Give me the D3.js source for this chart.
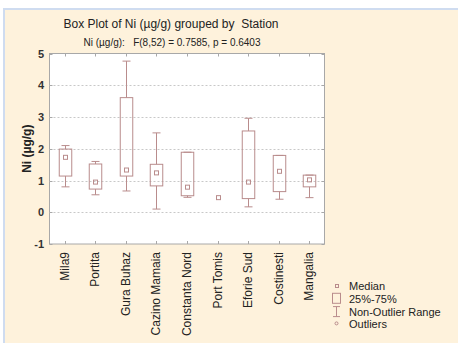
<!DOCTYPE html>
<html>
<head>
<meta charset="utf-8">
<script src="https://cdn.jsdelivr.net/npm/d3@7"></script>
<style>
  html, body { margin: 0; padding: 0; background: #fff; }
  svg { display: block; font-family: "Liberation Sans", Arial, sans-serif; }
  .pre { white-space: pre; }
</style>
</head>
<body>
<svg id="chart" width="458" height="343"></svg>
<script>
// values
const stations = ['Mila9', 'Portita', 'Gura Buhaz', 'Cazino Mamaia', 'Constanta Nord',
  'Port Tomis', 'Eforie Sud', 'Costinesti', 'Mangalia'];
const whiskerLow = [0.80, 0.55, 0.67, 0.10, 0.47, 0.46, 0.17, 0.41, 0.46];
const q1 = [1.14, 0.73, 1.14, 0.83, 0.52, 0.46, 0.43, 0.65, 0.80];
const median = [1.73, 0.95, 1.33, 1.24, 0.79, 0.46, 0.95, 1.29, 1.02];
const q3 = [1.99, 1.52, 3.61, 1.51, 1.89, 0.46, 2.56, 1.79, 1.17];
const whiskerHigh = [2.10, 1.60, 4.76, 2.50, 1.89, 0.46, 2.96, 1.79, 1.17];
const yTicks = [-1, 0, 1, 2, 3, 4, 5];
const legendItems = ['Median', '25%-75%', 'Non-Outlier Range', 'Outliers'];

const svg = d3.select('#chart');
const col = '#b98c8c';

// background with light blue frame
svg.append('rect').attr('x', 3).attr('y', 8).attr('width', 455).attr('height', 335).attr('fill', '#cfdcf0');
svg.append('rect').attr('x', 5).attr('y', 10).attr('width', 453).attr('height', 333).attr('fill', '#fef2dc');

const L = 49.5, R = 324.5, T = 53.5, B = 244;
const x = d3.scaleBand().domain(stations).range([L, R]);
const y = d3.scaleLinear().domain([-1, 5]).range([B, T]);

svg.append('rect').attr('x', L).attr('y', T).attr('width', R - L).attr('height', B - T)
  .attr('fill', '#fff').attr('stroke', '#a8a8a8').attr('stroke-width', 1);

// grid
svg.append('g').selectAll('line').data(yTicks.slice(1, -1)).join('line')
  .attr('x1', L).attr('x2', R)
  .attr('y1', d => Math.round(y(d)) + 0.5).attr('y2', d => Math.round(y(d)) + 0.5)
  .attr('stroke', '#c8c8c8').attr('stroke-dasharray', '2,2');

// ticks (inside, all sides)
const tk = svg.append('g').attr('stroke', '#a8a8a8');
stations.forEach(s => {
  const cx = Math.round(x(s) + x.bandwidth() / 2) + 0.5;
  tk.append('line').attr('x1', cx).attr('x2', cx).attr('y1', B).attr('y2', B - 3);
  tk.append('line').attr('x1', cx).attr('x2', cx).attr('y1', T).attr('y2', T + 3);
});
yTicks.forEach(t => {
  const cy = Math.round(y(t)) + 0.5;
  tk.append('line').attr('x1', L).attr('x2', L + 3).attr('y1', cy).attr('y2', cy);
  tk.append('line').attr('x1', R).attr('x2', R - 3).attr('y1', cy).attr('y2', cy);
});

// y tick labels
svg.append('g').selectAll('text').data(yTicks).join('text')
  .attr('x', 44).attr('y', d => y(d) + 4)
  .attr('text-anchor', 'end').attr('font-size', 11).attr('font-weight', 'bold')
  .attr('fill', '#333').text(d => d);

// x labels
svg.append('g').selectAll('text').data(stations).join('text')
  .attr('transform', s => `translate(${x(s) + x.bandwidth() / 2 + 4},252) rotate(-90)`)
  .attr('text-anchor', 'end').attr('font-size', 12).attr('fill', '#222').text(s => s);

// axis title
svg.append('text').attr('transform', `translate(31,${(T + B) / 2}) rotate(-90)`)
  .attr('text-anchor', 'middle').attr('font-size', 12).attr('font-weight', 'bold')
  .attr('fill', '#222').text('Ni (µg/g)');

// titles
svg.append('text').attr('class', 'pre').attr('x', 171).attr('y', 28).attr('text-anchor', 'middle')
  .attr('font-size', 12).attr('fill', '#222').text('Box Plot of Ni (µg/g) grouped by  Station');
svg.append('text').attr('class', 'pre').attr('x', 172).attr('y', 46).attr('text-anchor', 'middle')
  .attr('font-size', 10).attr('fill', '#222')
  .text('Ni (µg/g):   F(8,52) = 0.7585, p = 0.6403');

// boxes
const bw = 12.5;
const g = svg.append('g').attr('stroke', col).attr('fill', 'none').attr('stroke-width', 1);
stations.forEach((s, i) => {
  const cx = Math.round(x(s) + x.bandwidth() / 2) + 0.5;
  if (q3[i] > q1[i]) {
    g.append('line').attr('x1', cx).attr('x2', cx).attr('y1', y(whiskerHigh[i])).attr('y2', y(q3[i]));
    g.append('line').attr('x1', cx).attr('x2', cx).attr('y1', y(q1[i])).attr('y2', y(whiskerLow[i]));
    g.append('line').attr('x1', cx - 4).attr('x2', cx + 4).attr('y1', y(whiskerHigh[i])).attr('y2', y(whiskerHigh[i]));
    g.append('line').attr('x1', cx - 4).attr('x2', cx + 4).attr('y1', y(whiskerLow[i])).attr('y2', y(whiskerLow[i]));
    g.append('rect').attr('x', cx - bw / 2).attr('y', y(q3[i]))
      .attr('width', bw).attr('height', y(q1[i]) - y(q3[i]));
  }
  g.append('rect').attr('x', cx - 2).attr('y', y(median[i]) - 2).attr('width', 4).attr('height', 4);
});

// legend
const lg = svg.append('g').attr('font-size', 11).attr('fill', '#222');
const ly = [286, 298.8, 311.6, 324.4];
legendItems.forEach((t, i) => {
  lg.append('text').attr('x', 349).attr('y', ly[i] + 4).text(t);
});
const ls = svg.append('g').attr('stroke', col).attr('fill', 'none');
ls.append('rect').attr('x', 335.5).attr('y', ly[0] - 1.5).attr('width', 3).attr('height', 3);
ls.append('rect').attr('x', 332.5).attr('y', ly[1] - 5.5).attr('width', 8).attr('height', 10);
ls.append('line').attr('x1', 336.5).attr('x2', 336.5).attr('y1', ly[2] - 5).attr('y2', ly[2] + 5);
ls.append('line').attr('x1', 333).attr('x2', 340).attr('y1', ly[2] - 5).attr('y2', ly[2] - 5);
ls.append('line').attr('x1', 333).attr('x2', 340).attr('y1', ly[2] + 5).attr('y2', ly[2] + 5);
ls.append('circle').attr('cx', 336.5).attr('cy', ly[3] - 1).attr('r', 1.5);
</script>
</body>
</html>
